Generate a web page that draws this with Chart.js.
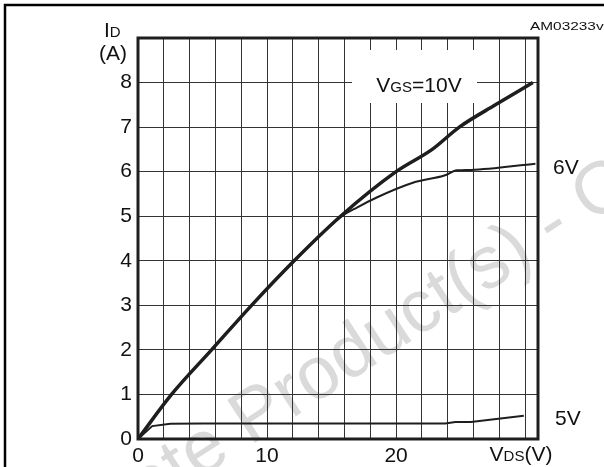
<!DOCTYPE html>
<html>
<head>
<meta charset="utf-8">
<script src="https://cdn.jsdelivr.net/npm/chart.js@4/dist/chart.umd.min.js"></script>
<style>
  html, body { margin: 0; padding: 0; background: #fff; }
  canvas { display: block; }
</style>
</head>
<body>
<canvas id="idVds" width="604" height="467"></canvas>
<script>
// Output characteristics, values
const vds10 = [0, 2.6, 5.7, 8.8, 12.1, 15.7, 20, 22.8, 24.9, 27.7, 30.6];
const id10 = [0, 1, 2, 3, 4, 5, 6, 6.5, 7, 7.5, 8.0];

const vds6 = [0, 2.6, 5.7, 8.8, 12.1, 15.7, 17, 18.5, 21.3, 23.8, 24.7, 25.8, 30.8];
const id6 = [0, 1, 2, 3, 4, 4.98, 5.2, 5.42, 5.75, 5.92, 6.03, 6.04, 6.18];

const vds5 = [0, 1.1, 2.5, 5, 23.8, 24.6, 25.8, 29.9];
const id5 = [0, 0.29, 0.34, 0.35, 0.35, 0.38, 0.38, 0.52];

const xTicks = [0, 2, 4, 6, 8, 10, 12, 14, 16, 18, 20, 22, 24, 26, 28, 30];
const xLabels = ["0", "", "", "", "", "10", "", "", "", "", "20", "", "", "", "", ""];
const yTicks = [0, 1, 2, 3, 4, 5, 6, 7, 8, 9];
const yLabels = ["0", "1", "2", "3", "4", "5", "6", "7", "8", ""];

const FONT = "'Liberation Sans', Arial, sans-serif";
const ink = "#1e1e1e";

function pts(xs, ys) {
  return xs.map((x, i) => ({ x: x, y: ys[i] }));
}

// draw a run of text pieces, each with its own size, on one baseline
function drawParts(ctx, parts, x, y, align) {
  let total = 0;
  parts.forEach((p) => {
    ctx.font = p[1] + "px " + FONT;
    total += ctx.measureText(p[0]).width;
  });
  let cx = align === "center" ? x - total / 2 : align === "right" ? x - total : x;
  ctx.textAlign = "left";
  ctx.textBaseline = "alphabetic";
  parts.forEach((p) => {
    ctx.font = p[1] + "px " + FONT;
    ctx.fillText(p[0], cx, y);
    cx += ctx.measureText(p[0]).width;
  });
}

const decor = {
  id: "decor",
  beforeDraw(chart) {
    const ctx = chart.ctx;
    ctx.save();
    ctx.fillStyle = "#fff";
    ctx.fillRect(0, 0, chart.width, chart.height);
    // watermark
    ctx.translate(250, 446);
    ctx.rotate((-33 * Math.PI) / 180);
    ctx.font = "74px " + FONT;
    ctx.fillStyle = "#dadada";
    ctx.textBaseline = "alphabetic";
    const full = "Obsolete Product(s) - Obsolete Product(s)";
    ctx.fillText(full, -ctx.measureText("Obsolete ").width, 0);
    ctx.restore();
  },
  afterDatasetsDraw(chart) {
    const ctx = chart.ctx;
    const a = chart.chartArea;
    ctx.save();
    // outer frame (top and left)
    ctx.strokeStyle = "#000";
    ctx.lineWidth = 2.5;
    ctx.beginPath();
    ctx.moveTo(5, chart.height);
    ctx.lineTo(5, 5);
    ctx.lineTo(chart.width, 5);
    ctx.stroke();

    // plot frame
    ctx.strokeStyle = ink;
    ctx.lineWidth = 3;
    ctx.strokeRect(a.left, a.top, a.right - a.left, a.bottom - a.top);

    // VGS label box
    ctx.fillStyle = "#fff";
    ctx.fillRect(352, 50, 125, 53);
    ctx.fillStyle = "#111";
    drawParts(ctx, [["V", 21], ["GS", 15], ["=10V", 21]], 419, 92, "center");

    drawParts(ctx, [["6V", 21]], 553, 174, "left");
    drawParts(ctx, [["5V", 21]], 555, 425, "left");

    drawParts(ctx, [["I", 21], ["D", 15]], 104, 37, "left");
    drawParts(ctx, [["(A)", 21]], 99, 60, "left");

    drawParts(ctx, [["V", 21], ["DS", 15], ["(V)", 21]], 521, 461, "center");

    // figure code, drawn stretched like the source
    ctx.save();
    ctx.translate(530, 29.5);
    ctx.scale(1.4, 1);
    ctx.font = "11px " + FONT;
    ctx.fillText("AM03233v", 0, 0);
    ctx.restore();
    ctx.restore();
  },
};

const lineStyle = {
  borderColor: ink,
  pointRadius: 0,
  fill: false,
};

new Chart(document.getElementById("idVds"), {
  type: "line",
  data: {
    datasets: [
      Object.assign({ label: "5V", data: pts(vds5, id5), borderWidth: 2, tension: 0 }, lineStyle),
      Object.assign({ label: "6V", data: pts(vds6, id6), borderWidth: 2, cubicInterpolationMode: "monotone" }, lineStyle),
      Object.assign({ label: "10V", data: pts(vds10, id10), borderWidth: 3.5, cubicInterpolationMode: "monotone" }, lineStyle),
    ],
  },
  options: {
    responsive: false,
    animation: false,
    devicePixelRatio: 1,
    layout: { padding: { top: 38, right: 66, left: 0, bottom: 0 } },
    plugins: { legend: { display: false }, tooltip: { enabled: false } },
    scales: {
      x: {
        type: "linear",
        min: 0,
        max: 31,
        afterBuildTicks: (axis) => {
          axis.ticks = xTicks.map((v) => ({ value: v }));
        },
        afterFit: (s) => {
          s.height = 28;
        },
        grid: { color: "#333", lineWidth: 1, drawTicks: false },
        border: { display: false },
        ticks: {
          autoSkip: false,
          maxRotation: 0,
          padding: 5,
          color: "#111",
          font: { family: FONT, size: 21 },
          callback: (v) => xLabels[xTicks.indexOf(v)] || "",
        },
      },
      y: {
        min: 0,
        max: 9,
        afterBuildTicks: (axis) => {
          axis.ticks = yTicks.map((v) => ({ value: v }));
        },
        afterFit: (s) => {
          s.width = 138;
        },
        grid: { color: "#333", lineWidth: 1, drawTicks: false },
        border: { display: false },
        ticks: {
          padding: 6,
          color: "#111",
          font: { family: FONT, size: 21 },
          callback: (v) => yLabels[yTicks.indexOf(v)] || "",
        },
      },
    },
  },
  plugins: [decor],
});
</script>
</body>
</html>
